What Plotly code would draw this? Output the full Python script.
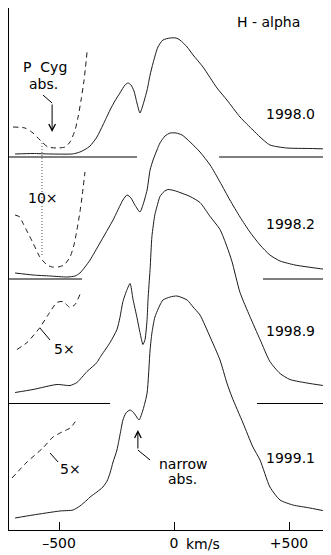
import plotly.graph_objects as go

# ---------------- data (velocity km/s, flux above each epoch's continuum, arbitrary units) -------------
EPOCHS = ["1998.0", "1998.2", "1998.9", "1999.1"]

V_1998_0 = [-691, -613, -539, -443, -422, -409, -387, -365, -335, -309, -278, -257, -235, -213, -200, -187,
            -174, -161, -148, -135, -117, -104, -91, -70, -48, -17, 9, 26, 57, 83, 126, 187, 230, 287, 343,
            374, 417, 491, 591, 678]
F_1998_0 = [3, 3.5, 3, 3, 4, 5, 7.5, 11, 20, 32, 47, 56, 64, 72, 74, 72, 66, 54, 44, 52, 67, 82, 94, 110,
            117, 119, 119, 117, 110, 102, 90, 69, 57, 40, 27, 20, 12, 9, 8.5, 8]
V_1998_0_X10 = [-700, -648, -613, -574, -548, -504, -474, -452, -430, -417, -404, -391, -378]
F_1998_0_X10 = [30, 29, 24, 15, 10, 9, 10, 15, 27, 40, 57, 77, 105]

V_1998_2 = [-691, -613, -539, -465, -430, -409, -387, -365, -322, -265, -222, -204, -187, -170, -148, -135,
            -117, -104, -91, -74, -61, -39, -17, 9, 35, 70, 113, 157, 200, 243, 287, 330, 374, 417, 461,
            526, 613, 678]
F_1998_2 = [6, 4, 3, 2, 3, 6, 12, 19, 36, 59, 79, 84, 81, 74, 67, 74, 89, 109, 119, 129, 136, 143, 146,
            146, 144, 137, 127, 114, 97, 79, 62, 47, 34, 24, 18, 14, 11, 9]
V_1998_2_X10 = [-691, -670, -657, -635, -613, -583, -552, -530, -504, -478, -452, -435, -422, -409, -400, -387]
F_1998_2_X10 = [64, 62, 56, 46, 36, 22, 14, 12, 12, 14, 22, 34, 49, 67, 82, 107]

V_1998_9 = [-691, -613, -509, -452, -422, -378, -335, -322, -278, -248, -235, -222, -204, -191, -178, -161,
            -148, -135, -126, -117, -113, -104, -96, -83, -74, -61, -43, -26, 0, 26, 70, 113, 157, 200, 230,
            252, 287, 330, 374, 417, 461, 504, 591, 678]
F_1998_9 = [11, 14, 19, 18, 21, 32, 41, 46, 61, 74, 86, 102, 114, 120, 104, 86, 71, 59, 64, 84, 104, 134,
            167, 189, 197, 207, 212, 214, 213, 211, 207, 201, 187, 174, 157, 142, 111, 87, 64, 42, 30, 24,
            20, 17]
V_1998_9_X5 = [-683, -639, -583, -552, -509, -483, -452, -430, -409]
F_1998_9_X5 = [54, 61, 76, 87, 101, 102, 96, 99, 109]

V_1999_1 = [-691, -613, -496, -439, -409, -378, -365, -335, -309, -291, -278, -265, -248, -235, -222, -209,
            -191, -178, -165, -152, -135, -117, -104, -96, -83, -61, -48, -17, 13, 57, 83, 113, 157, 200,
            230, 252, 300, 343, 374, 417, 461, 517, 591, 678]
F_1999_1 = [12, 15, 19, 20, 24, 30, 33, 38, 43, 49, 57, 68, 80, 95, 110, 117, 120, 118, 114, 110, 120, 137,
            180, 197, 213, 225, 230, 233, 234, 230, 223, 215, 193, 170, 147, 133, 107, 83, 70, 43, 30, 25,
            22, 18]
V_1999_1_X5 = [-704, -639, -570, -526, -487, -452, -417]
F_1999_1_X5 = [52, 68, 82, 93, 98, 102, 112]

TICK_VALS = [-500, 0, 500]
TICK_TEXT = ["\u2013500", "0", "+500"]
PCYG_V = -574

# ---------------- layout constants -------------
OFFSETS = [373, 251, 126.5, 0]          # continuum level of each epoch on the stacked scale
XMIN, XMAX = -717.4, 682.6
YMAX = 522
FONT = "DejaVu Sans"
LINE = "#1a1a1a"

solid = [(V_1998_0, F_1998_0), (V_1998_2, F_1998_2), (V_1998_9, F_1998_9), (V_1999_1, F_1999_1)]
dashed = [(V_1998_0_X10, F_1998_0_X10), (V_1998_2_X10, F_1998_2_X10),
          (V_1998_9_X5, F_1998_9_X5), (V_1999_1_X5, F_1999_1_X5)]

fig = go.Figure()
for (v, f), off in zip(solid, OFFSETS):
    fig.add_trace(go.Scatter(x=v, y=[off + a for a in f], mode="lines",
                             line=dict(color=LINE, width=1, shape="spline", smoothing=0.6),
                             hoverinfo="skip", showlegend=False))
for (v, f), off in zip(dashed, OFFSETS):
    fig.add_trace(go.Scatter(x=v, y=[off + a for a in f], mode="lines",
                             line=dict(color=LINE, width=1, dash="5px,4px", shape="spline", smoothing=0.6),
                             hoverinfo="skip", showlegend=False))

shapes = []
def seg(x0, y0, x1, y1, dash=None, color="black"):
    d = dict(type="line", xref="x", yref="y", x0=x0, y0=y0, x1=x1, y1=y1,
             line=dict(color=color, width=1))
    if dash:
        d["line"]["dash"] = dash
    shapes.append(d)

# continuum lines (gaps where the profiles cross)
seg(XMIN, OFFSETS[0], -161, OFFSETS[0]); seg(196, OFFSETS[0], XMAX, OFFSETS[0])
seg(XMIN, OFFSETS[1], -400, OFFSETS[1]); seg(387, OFFSETS[1], XMAX, OFFSETS[1])
seg(XMIN, OFFSETS[2], -278, OFFSETS[2]); seg(361, OFFSETS[2], XMAX, OFFSETS[2])
# dotted marker of the P Cyg absorption velocity
seg(PCYG_V, 387, PCYG_V, 275, dash="1px,2px", color="#555")
# pointer lines
seg(-570, 435, -530, 427)
seg(-583, 202, -539, 190)
seg(-539, 77, -504, 68)
seg(-157, 80, -104, 70)

tf = dict(family=FONT, size=14, color="black")
ann = []
def txt(x, y, s, size=14, xanchor="center", yref="y"):
    ann.append(dict(x=x, y=y, xref="x", yref=yref, text=s, showarrow=False,
                    font=dict(family=FONT, size=size, color="black"), xanchor=xanchor, yanchor="middle"))

txt(413, 508, "H - alpha")
txt(-563, 463, "P  Cyg")
txt(-567, 446, "abs.")
txt(-570, 332, "10\u00d7")
txt(-474, 181, "5\u00d7")
txt(-448, 61, "5\u00d7")
txt(41, 66, "narrow")
txt(39, 51, "abs.")
for lab, yy in zip(EPOCHS, [416.5, 306, 199, 72]):
    txt(505, yy, lab)
# axis unit, next to the "0" tick label (below the plot area, so paper-referenced in y)
txt(45, -14 / YMAX, "km/s", xanchor="left", yref="paper")

# arrows
ann.append(dict(x=-530, y=398, ax=-530, ay=427, xref="x", yref="y", axref="x", ayref="y",
                showarrow=True, arrowhead=5, arrowsize=1.3, arrowwidth=1, arrowcolor="black", text=""))
ann.append(dict(x=-157, y=100, ax=-157, ay=80, xref="x", yref="y", axref="x", ayref="y",
                showarrow=True, arrowhead=5, arrowsize=1.3, arrowwidth=1, arrowcolor="black", text=""))

# the page body has an 8px margin, so the figure itself is 8px smaller on the left/top
fig.update_layout(
    width=323, height=547,
    margin=dict(l=1, r=0, t=0, b=25),
    paper_bgcolor="white", plot_bgcolor="white",
    shapes=shapes, annotations=ann,
    xaxis=dict(range=[XMIN, XMAX], showline=True, linecolor="black", linewidth=1, mirror=True,
               ticks="inside", ticklen=8, tickwidth=1, tickcolor="black",
               tickvals=TICK_VALS, ticktext=TICK_TEXT, tickfont=tf,
               showgrid=False, zeroline=False, fixedrange=True),
    yaxis=dict(range=[0, YMAX], showline=True, linecolor="black", linewidth=1, mirror=False,
               ticks="", showticklabels=False, showgrid=False, zeroline=False, fixedrange=True),
)

fig.write_html("out.html")
